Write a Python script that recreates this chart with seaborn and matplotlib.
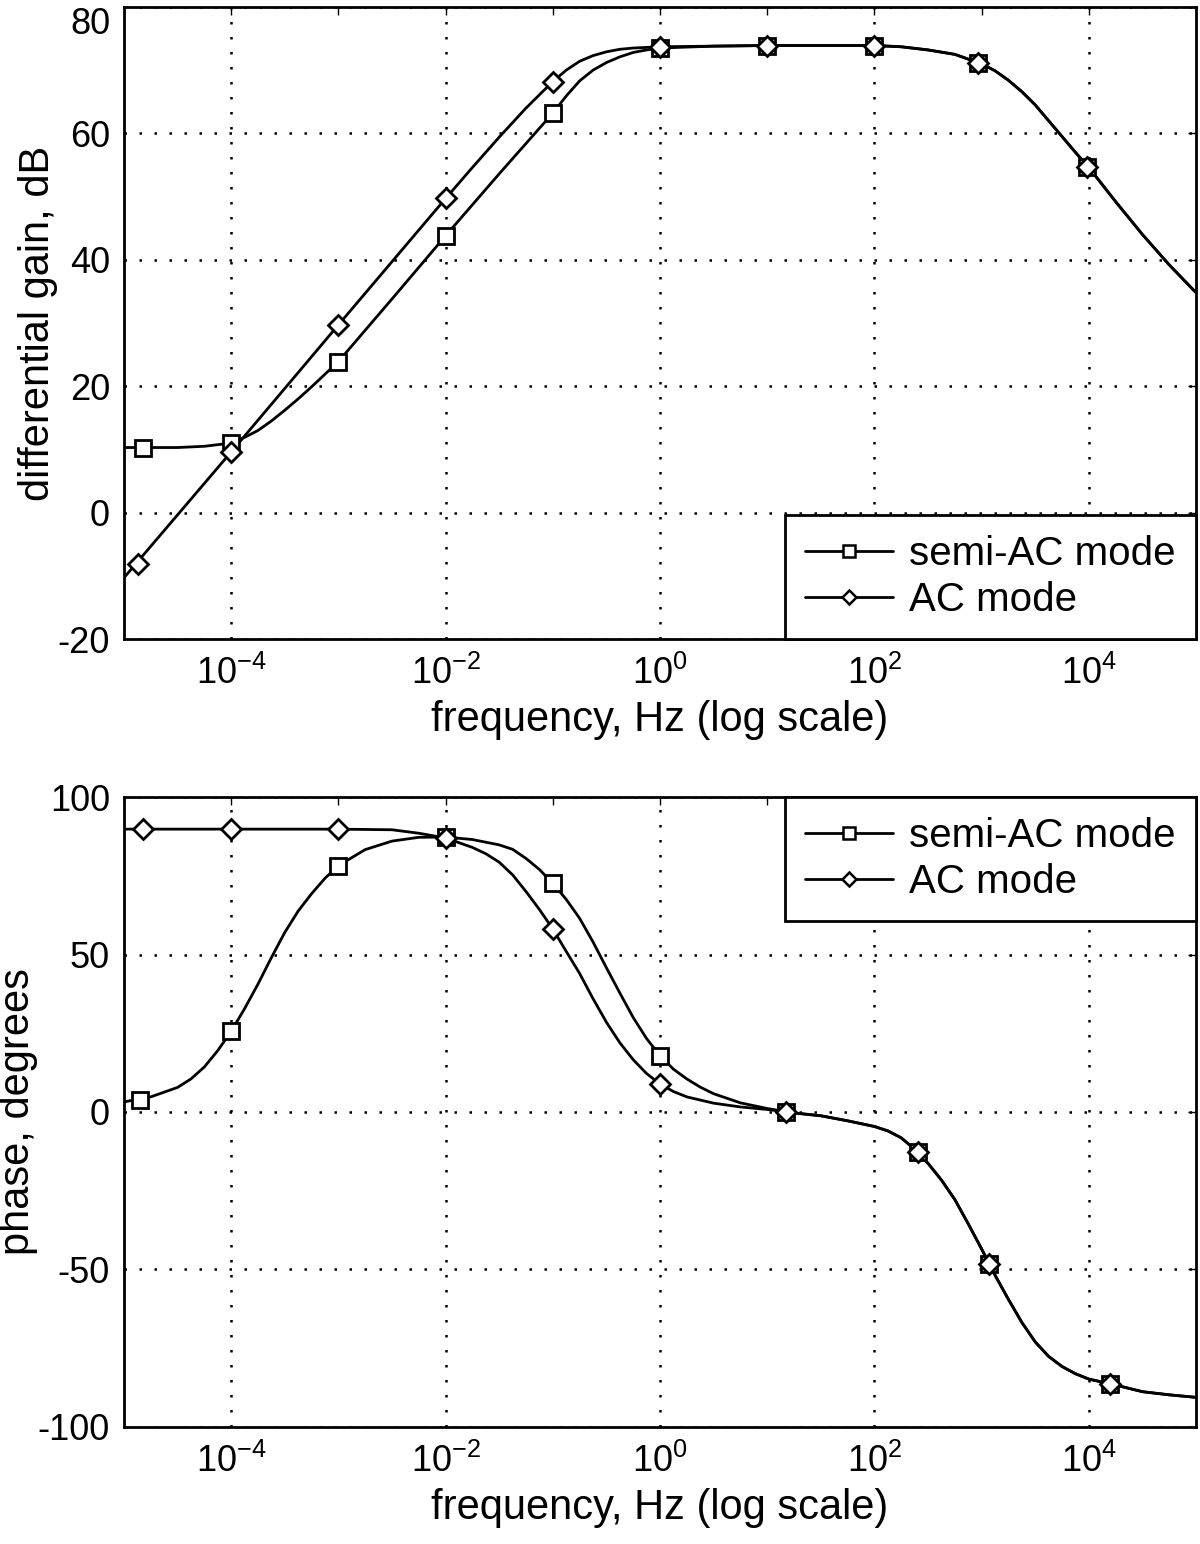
import numpy as np
import pandas as pd
import matplotlib
matplotlib.use("Agg")
import matplotlib.pyplot as plt
import seaborn as sns
from matplotlib.lines import Line2D
from matplotlib.ticker import FixedLocator, FixedFormatter, NullFormatter

sns.set_style("white")
plt.rcParams['font.family'] = ['Liberation Sans', 'DejaVu Sans']
plt.rcParams['mathtext.fontset'] = 'custom'
plt.rcParams['mathtext.rm'] = 'Liberation Sans'
plt.rcParams['mathtext.it'] = 'Liberation Sans'
plt.rcParams['axes.unicode_minus'] = False
plt.rcParams['text.color'] = 'black'
plt.rcParams['axes.labelcolor'] = 'black'
plt.rcParams['xtick.color'] = 'black'
plt.rcParams['ytick.color'] = 'black'

# ---- data (frequency as log10 of Hz) ----
# gain, low-frequency part of each mode
gain_semi_logf = [-5, -4.5, -4.25, -4, -3.875, -3.75, -3.625, -3.5, -3.375, -3.25, -3.125, -3,
                  -2.5, -2, -1.5, -1.25, -1, -0.875, -0.75, -0.625, -0.5, -0.375, -0.25, -0.125, 0]
gain_semi_low = [10.3, 10.3, 10.5, 11.0, 11.9, 13.0, 14.5, 16.2, 18.0, 19.9, 21.9, 23.9,
                 33.8, 43.8, 53.6, 58.4, 63.2, 65.9, 68.3, 70.0, 71.2, 72.1, 72.8, 73.2, 73.5]
gain_ac_logf = [-5, -4, -3, -2, -1.75, -1.5, -1.25, -1, -0.875, -0.75, -0.625, -0.5, -0.375,
                -0.25, -0.125, 0]
gain_ac_low = [-10.3, 9.6, 29.7, 49.7, 54.6, 59.4, 64.0, 68.2, 70.0, 71.4, 72.3, 72.9, 73.3,
               73.5, 73.6, 73.7]
# gain, part where both modes coincide
gain_tail_logf = [0.5, 1, 1.5, 2, 2.25, 2.5, 2.75, 3, 3.125, 3.25, 3.375, 3.5, 3.625, 3.75,
                  3.875, 4, 4.25, 4.5, 4.75, 5]
gain_tail = [73.8, 73.9, 73.9, 73.9, 73.7, 73.2, 72.5, 71.0, 69.9, 68.4, 66.6, 64.5, 62.0, 59.5,
             57.0, 54.6, 49.2, 44.0, 39.2, 34.8]

gain_mk_logf_semi = [-4.82, -4, -3, -2, -1, 0, 1, 2, 2.97, 3.98]
gain_mk_semi = [10.3, 11.0, 23.9, 43.8, 63.2, 73.5, 73.9, 73.9, 71.1, 54.7]
gain_mk_logf_ac = [-4.87, -4, -3, -2, -1, 0, 1, 2, 2.97, 3.98]
gain_mk_ac = [-8.1, 9.6, 29.7, 49.7, 68.2, 73.7, 73.9, 73.9, 71.1, 54.7]

# phase
phase_semi_logf = [-5, -4.75, -4.5, -4.375, -4.25, -4.125, -4, -3.875, -3.75, -3.625, -3.5,
                   -3.375, -3.25, -3.125, -3, -2.75, -2.5, -2.25, -2, -1.75, -1.5, -1.375,
                   -1.25, -1.125, -1, -0.875, -0.75, -0.625, -0.5, -0.375, -0.25, -0.125, 0,
                   0.125, 0.25, 0.375, 0.5, 0.75, 1]
phase_semi_low = [3.2, 4.8, 7.8, 10.5, 14.3, 19.5, 25.6, 32.8, 40.6, 49.0, 57.0,
                  63.8, 69.3, 74.2, 78.2, 83.3, 86.0, 87.2, 87.3, 86.5, 84.8, 83.4,
                  80.5, 77.0, 72.6, 67.5, 61.5, 54.0, 45.8, 37.8, 30.0, 23.3, 17.9,
                  13.6, 10.5, 7.9, 5.8, 2.9, 1.1]
phase_ac_logf = [-5, -3, -2.5, -2.25, -2, -1.75, -1.625, -1.5, -1.375, -1.25, -1.125, -1,
                 -0.875, -0.75, -0.625, -0.5, -0.375, -0.25, -0.125, 0, 0.125, 0.25, 0.5,
                 0.75, 1]
phase_ac_low = [89.8, 89.8, 89.6, 88.5, 87.0, 84.0, 82.0, 79.3, 75.3, 70.0, 64.3, 58.1,
                51.0, 44.0, 36.0, 28.5, 22.0, 16.6, 12.2, 8.9, 6.5, 4.8, 2.8,
                1.6, 0.8]
phase_tail_logf = [1.25, 1.5, 1.75, 2, 2.125, 2.25, 2.375, 2.5, 2.625, 2.75, 2.875, 3, 3.125,
                   3.25, 3.375, 3.5, 3.625, 3.75, 3.875, 4, 4.25, 4.5, 4.75, 5]
phase_tail = [-0.3, -1.2, -2.8, -4.6, -6.0, -8.2, -11.8, -16.3, -21.6, -27.8, -35.5, -43.5, -51.8,
              -59.5, -66.8, -73.0, -77.6, -80.8, -83.1, -84.8, -86.7, -88.8, -89.8, -90.6]

phase_mk_logf_semi = [-4.85, -4, -3, -2, -1, 0, 1.175, 2.41, 3.07, 4.2]
phase_mk_semi = [3.9, 25.6, 78.2, 87.2, 72.6, 17.9, 0.1, -12.8, -48.3, -86.3]
phase_mk_logf_ac = [-4.82, -4, -3, -2, -1, 0, 1.175, 2.41, 3.07, 4.2]
phase_mk_ac = [89.8, 89.8, 89.8, 87.0, 58.1, 8.9, 0.1, -12.8, -48.3, -86.3]

labels = ['semi-AC mode', 'AC mode']
even_decades = [-4, -2, 0, 2, 4]
odd_decades = [-5, -3, -1, 1, 3, 5]

FS = 26
LW = 2.0
grid_style = dict(color='k', linestyle=(0, (1, 5)), linewidth=1.8)


def style_axis(ax, yticks, ylabel):
    ax.set_xscale('log')
    ax.set_xlim(1e-5, 1e5)
    ax.set_ylim(yticks[0], yticks[-1])
    ax.xaxis.set_major_locator(FixedLocator([10.0 ** d for d in even_decades]))
    ax.xaxis.set_major_formatter(FixedFormatter(['$10^{%d}$' % d for d in even_decades]))
    ax.xaxis.set_minor_locator(FixedLocator([10.0 ** d for d in odd_decades]))
    ax.xaxis.set_minor_formatter(NullFormatter())
    ax.set_yticks(yticks)
    ax.set_yticklabels([str(v) for v in yticks])
    ax.tick_params(which='both', direction='in', top=True, right=True, length=6,
                   width=1.0, color='k', labelcolor='k')
    ax.tick_params(axis='y', labelsize=FS, pad=10)
    ax.tick_params(axis='x', labelsize=FS, pad=12)
    ax.grid(True, which='major', **grid_style)
    for s in ax.spines.values():
        s.set_linewidth(2.0)
        s.set_color('k')
    ax.set_xlabel('frequency, Hz (log scale)', fontsize=30, labelpad=6, color='k')
    ax.set_ylabel(ylabel, fontsize=30, labelpad=0, color='k')


def draw(ax, low_sets, tail, mk_sets, legend_loc):
    tail_f, tail_y = tail
    for lf, ly in low_sets:
        df = pd.DataFrame({'f': 10.0 ** np.array(lf + tail_f), 'y': ly + tail_y})
        sns.lineplot(data=df, x='f', y='y', color='k', linewidth=LW, ax=ax)
    markers = ['s', 'D']
    sizes = [12, 10]
    for (mx, my), m, ms in zip(mk_sets, markers, sizes):
        ax.plot(10.0 ** np.array(mx), my, linestyle='none', marker=m, markersize=ms,
                markerfacecolor='white', markeredgecolor='k', markeredgewidth=2.0)
    handles = [Line2D([], [], color='k', linewidth=LW, marker=m, markersize=ms * 0.75,
                      markerfacecolor='white', markeredgecolor='k', markeredgewidth=1.8)
               for m, ms in zip(markers, sizes)]
    leg = ax.legend(handles, labels, loc=legend_loc, fontsize=29, frameon=True,
                    fancybox=False, framealpha=1, edgecolor='k', borderaxespad=0,
                    handlelength=2.2, handletextpad=0.4, borderpad=0.5, labelspacing=0.2)
    leg.get_frame().set_linewidth(2.0)
    for t in leg.get_texts():
        t.set_color('k')


fig = plt.figure(figsize=(12, 15.44), dpi=100)
ax1 = fig.add_axes([0.1033, 0.5861, 0.8934, 0.4094])
ax2 = fig.add_axes([0.1033, 0.0758, 0.8934, 0.4080])

draw(ax1, [(gain_semi_logf, gain_semi_low), (gain_ac_logf, gain_ac_low)],
     (gain_tail_logf, gain_tail),
     [(gain_mk_logf_semi, gain_mk_semi), (gain_mk_logf_ac, gain_mk_ac)], 'lower right')
style_axis(ax1, [-20, 0, 20, 40, 60, 80], 'differential gain, dB')
ax1.get_yticklabels()[-1].set_verticalalignment('top')

draw(ax2, [(phase_semi_logf, phase_semi_low), (phase_ac_logf, phase_ac_low)],
     (phase_tail_logf, phase_tail),
     [(phase_mk_logf_semi, phase_mk_semi), (phase_mk_logf_ac, phase_mk_ac)], 'upper right')
style_axis(ax2, [-100, -50, 0, 50, 100], 'phase, degrees')

fig.savefig('out.png', dpi=100)
